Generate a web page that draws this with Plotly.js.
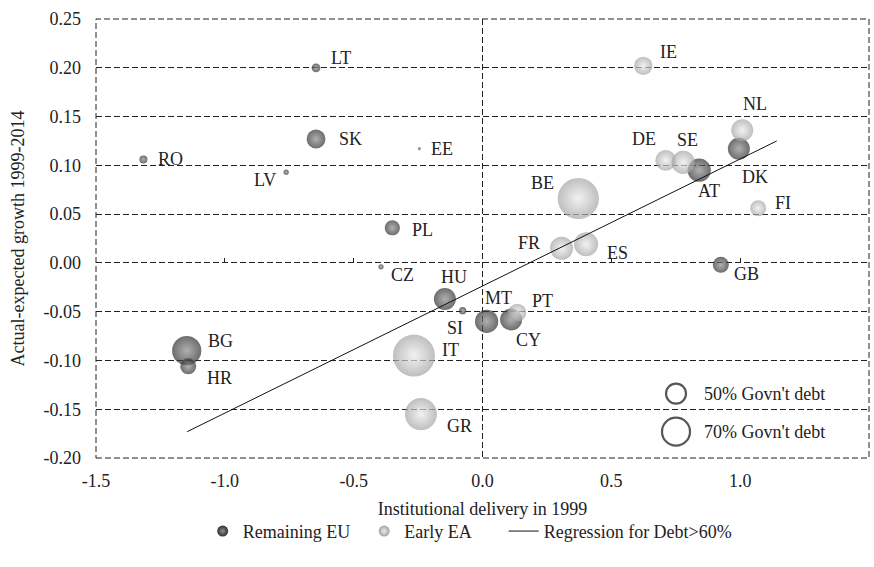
<!DOCTYPE html>
<html>
<head>
<meta charset="utf-8">
<script src="https://cdn.plot.ly/plotly-3.0.1.min.js"></script>
<style>html,body{margin:0;padding:0;background:#fff;}#chart{width:874px;height:567px;}</style>
</head>
<body>
<div id="chart"></div>
<script>
// ---- data ----
var euCodes = ["LT","SK","RO","LV","EE","PL","CZ","BG","HR","HU","SI","MT","CY","GB","DK","AT"];
var euDelivery = [-0.646,-0.646,-1.316,-0.762,-0.245,-0.350,-0.394,-1.148,-1.142,-0.146,-0.077,0.016,0.111,0.925,0.995,0.841];
var euGrowth = [0.200,0.127,0.106,0.093,0.117,0.036,-0.004,-0.090,-0.106,-0.037,-0.049,-0.060,-0.058,-0.002,0.117,0.095];
var euDebt = [22,47,20,13,7,38,13,73,40,55,18,58,55,40,55,58];

var eaCodes = ["IE","NL","DE","SE","BE","FI","FR","ES","IT","GR","PT"];
var eaDelivery = [0.624,1.008,0.711,0.779,0.372,1.070,0.307,0.402,-0.266,-0.239,0.135];
var eaGrowth = [0.202,0.136,0.105,0.103,0.066,0.056,0.015,0.019,-0.095,-0.155,-0.051];
var eaDebt = [46,55,52,58,103,40,58,60,105,80,45];

var regDelivery = [-1.146, 1.142];
var regGrowth = [-0.173, 0.125];

var keyDebt = [50, 70];
var keyLabels = ["50% Govn't debt", "70% Govn't debt"];

var seriesNames = ["Remaining EU", "Early EA", "Regression for Debt>60%"];

var xTickVals = [-1.5,-1.0,-0.5,0.0,0.5,1.0,1.5];
var xTickText = ["-1.5","-1.0","-0.5","0.0","0.5","1.0","1.5"];
var yTickVals = [-0.20,-0.15,-0.10,-0.05,0.00,0.05,0.10,0.15,0.20,0.25];
var yTickText = ["-0.20","-0.15","-0.10","-0.05","0.00","0.05","0.10","0.15","0.20","0.25"];

// ---- presentation (positions / styles) ----
var FONT = "Liberation Serif, Times New Roman, serif";
var TXT = "#222";
var SIZEREF = 2.5; // debt % per px of diameter
var DARK = {color: "#2f2f2f", center: "#8e8e8e"};
var LIGHT = {color: "#a3a3a3", center: "#ececec"};
var keyPos = {x: 0.751, y: [-0.134, -0.173]};
// label offsets in px [dx, dy(up)]
var labelOffset = {
  LT:[25,10], SK:[34,0], RO:[27,0], LV:[-21,-8], EE:[23,0], PL:[30,-2], CZ:[22,-8],
  BG:[34,10], HR:[31,-12], HU:[9,22], SI:[-8,-17], MT:[12,23], CY:[17,-21], GB:[26,-9],
  DK:[16,-28], AT:[10,-21],
  IE:[25,14], NL:[13,26], DE:[-22,21], SE:[4,22], BE:[-36,16], FI:[25,5], FR:[-33,5],
  ES:[31,-9], IT:[37,6], GR:[39,-12], PT:[25,12]
};
var legendPad = ["\u00a0\u00a0", "\u00a0\u00a0\u00a0\u00a0\u00a0\u00a0", ""];

var traces = [
  {
    type: "scatter", mode: "markers", name: seriesNames[0], showlegend: false,
    x: euDelivery, y: euGrowth, text: euCodes,
    marker: {
      size: euDebt, sizemode: "diameter", sizeref: SIZEREF,
      color: DARK.color, line: {width: 0},
      gradient: {type: "radial", color: DARK.center}
    },
    hoverinfo: "text"
  },
  {
    type: "scatter", mode: "markers", name: seriesNames[1], showlegend: false,
    x: eaDelivery, y: eaGrowth, text: eaCodes,
    marker: {
      size: eaDebt, sizemode: "diameter", sizeref: SIZEREF,
      color: LIGHT.color, line: {width: 0},
      gradient: {type: "radial", color: LIGHT.center}
    },
    hoverinfo: "text"
  },
  {
    type: "scatter", mode: "lines", name: seriesNames[2], showlegend: false,
    x: regDelivery, y: regGrowth,
    line: {color: "#111", width: 1}
  },
  {
    type: "scatter", mode: "markers", showlegend: false,
    x: keyDebt.map(function(){return keyPos.x;}), y: keyPos.y,
    marker: {
      size: keyDebt, sizemode: "diameter", sizeref: SIZEREF,
      color: "rgba(0,0,0,0)", line: {color: "#111", width: 2.2}
    },
    hoverinfo: "skip"
  },
  // legend entries
  {
    type: "scatter", mode: "markers", name: seriesNames[0] + legendPad[0], x: [null], y: [null],
    marker: {size: 11, color: DARK.color, gradient: {type: "radial", color: DARK.center}, line: {width: 0}}
  },
  {
    type: "scatter", mode: "markers", name: seriesNames[1] + legendPad[1], x: [null], y: [null],
    marker: {size: 11, color: LIGHT.color, gradient: {type: "radial", color: LIGHT.center}, line: {width: 0}}
  },
  {
    type: "scatter", mode: "lines", name: seriesNames[2] + legendPad[2], x: [null], y: [null],
    line: {color: "#111", width: 1}
  }
];

var annotations = [];
function addLabels(codes, xs, ys) {
  for (var i = 0; i < codes.length; i++) {
    var o = labelOffset[codes[i]] || [20, 0];
    annotations.push({
      x: xs[i], y: ys[i], xref: "x", yref: "y", text: codes[i], showarrow: false,
      xshift: o[0], yshift: o[1], xanchor: "center", yanchor: "middle",
      font: {family: FONT, size: 18, color: TXT}
    });
  }
}
addLabels(euCodes, euDelivery, euGrowth);
addLabels(eaCodes, eaDelivery, eaGrowth);
for (var k = 0; k < keyLabels.length; k++) {
  annotations.push({
    x: keyPos.x, y: keyPos.y[k], xref: "x", yref: "y", text: keyLabels[k], showarrow: false,
    xanchor: "left", yanchor: "middle", xshift: 26,
    font: {family: FONT, size: 18, color: TXT}
  });
}

var dashGrid = "6px,3px";
var layout = {
  width: 874, height: 567,
  paper_bgcolor: "#fff", plot_bgcolor: "#fff",
  margin: {l: 96, r: 5, t: 19, b: 109},
  font: {family: FONT, size: 18, color: TXT},
  showlegend: true,
  legend: {
    orientation: "h", x: 0.138, xanchor: "left", y: -0.125, yanchor: "top",
    font: {family: FONT, size: 18, color: TXT}, itemsizing: "trace",
    bgcolor: "rgba(0,0,0,0)"
  },
  xaxis: {
    range: [-1.5, 1.5], tickmode: "array", tickvals: xTickVals, ticktext: xTickText,
    showgrid: false, zeroline: false, showline: false, ticks: "",
    ticklabelstandoff: 10, automargin: false,
    tickfont: {family: FONT, size: 18, color: TXT},
    title: {text: "Institutional delivery in 1999", standoff: 12, font: {family: FONT, size: 18, color: TXT}}
  },
  xaxis2: {
    overlaying: "x", matches: "x", range: [-1.5, 1.5], anchor: "free", position: 0.4444, side: "top",
    tickmode: "array", tickvals: [-1.0, -0.5, 0.5, 1.0], ticks: "outside", ticklen: 5, tickwidth: 1,
    tickcolor: "#222", showticklabels: false, showgrid: false, zeroline: false, showline: false
  },
  xaxis3: {
    overlaying: "x", matches: "x", range: [-1.5, 1.5], anchor: "y",
    tickmode: "array", tickvals: [-1.5, 0, 1.5], ticks: "", showticklabels: false,
    showgrid: true, gridcolor: "#222", gridwidth: 1, griddash: dashGrid, zeroline: false, showline: false
  },
  yaxis: {
    range: [-0.2, 0.25], tickmode: "array", tickvals: yTickVals, ticktext: yTickText,
    showgrid: true, gridcolor: "#222", gridwidth: 1, griddash: dashGrid,
    zeroline: false, showline: false, ticks: "",
    ticklabelstandoff: 14, automargin: false,
    tickfont: {family: FONT, size: 18, color: TXT},
    title: {text: "Actual-expected growth 1999-2014", standoff: 14, font: {family: FONT, size: 18, color: TXT}}
  },
  shapes: [{
    type: "rect", xref: "paper", yref: "paper", x0: 0, x1: 1, y0: 0, y1: 1,
    line: {color: "#222", width: 1, dash: dashGrid}, fillcolor: "rgba(0,0,0,0)", layer: "below"
  }],
  annotations: annotations
};

// invisible traces to activate helper axes
traces.push({type: "scatter", x: [0], y: [0], xaxis: "x2", yaxis: "y", mode: "markers", marker: {opacity: 0}, showlegend: false, hoverinfo: "skip"});
traces.push({type: "scatter", x: [0], y: [0], xaxis: "x3", yaxis: "y", mode: "markers", marker: {opacity: 0}, showlegend: false, hoverinfo: "skip"});

Plotly.newPlot("chart", traces, layout, {displayModeBar: false, staticPlot: true});
</script>
</body>
</html>
